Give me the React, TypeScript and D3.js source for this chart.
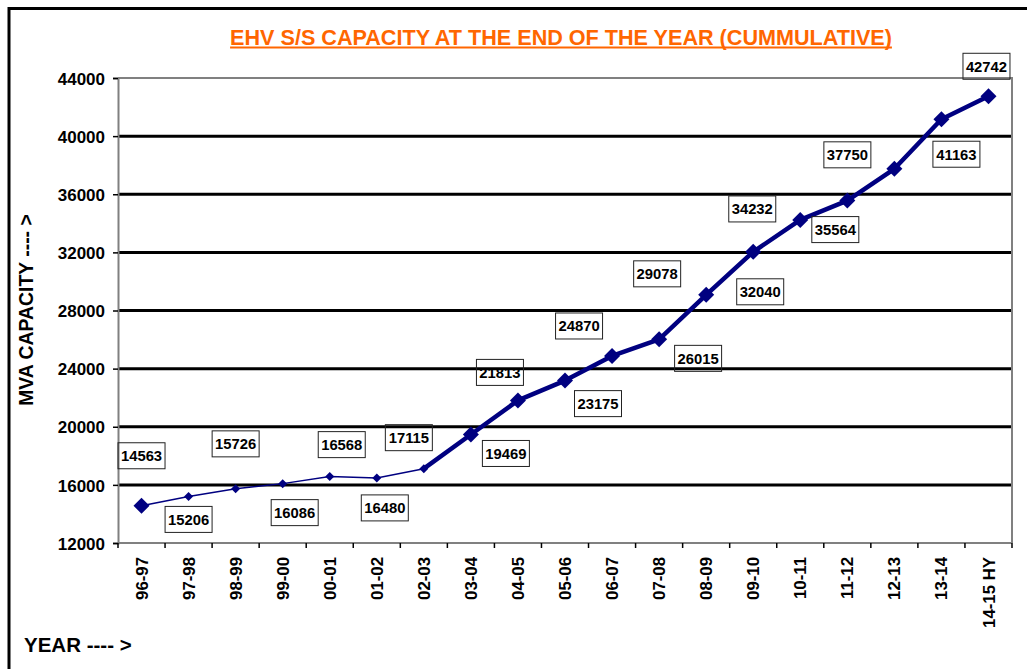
import React, { useEffect, useRef } from 'react';
import * as d3 from 'd3';

// financial years on the x axis
const years = [
  '96-97', '97-98', '98-99', '99-00', '00-01', '01-02', '02-03', '03-04', '04-05', '05-06',
  '06-07', '07-08', '08-09', '09-10', '10-11', '11-12', '12-13', '13-14', '14-15 HY',
];

// cumulative EHV substation capacity (MVA)
const capacity = [
  14563, 15206, 15726, 16086, 16568, 16480, 17115, 19469, 21813, 23175,
  24870, 26015, 29078, 32040, 34232, 35564, 37750, 41163, 42742,
];

const yTicks = [12000, 16000, 20000, 24000, 28000, 32000, 36000, 40000, 44000];

// where each value box sits relative to its point (hand placed in the original)
const labelOffsets: [number, number][] = [
  [0, -50], [0, 23], [0, -45], [12, 29], [12, -32], [8, 30], [-15, -31], [35, 19],
  [-18, -28], [33, 23], [-33, -30], [39, 19], [-49, -21], [7, 40], [-48, -11],
  [-12, 29], [-47, -14], [15, 35], [-2, -30],
];

// the line gets heavier from 02-03 onwards
const thickFrom = 6;

const FONT = "'Liberation Sans', Arial, Helvetica, sans-serif";
const NAVY = '#000080';

const App = () => {
  const ref = useRef<SVGSVGElement>(null);

  useEffect(() => {
    if (!ref.current) return;
    const width = 1027;
    const height = 669;
    const marginLeft = 118;
    const marginRight = 15;
    const marginTop = 78;
    const marginBottom = 126;

    const svg = d3.select(ref.current);
    svg.selectAll('*').remove();
    svg.attr('width', width).attr('height', height)
      .style('font-family', FONT);

    const x = d3.scaleBand<string>()
      .domain(years)
      .range([marginLeft, width - marginRight])
      .padding(0);

    const y = d3.scaleLinear()
      .domain([12000, 44000])
      .range([height - marginBottom, marginTop]);

    const cx = (i: number) => (x(years[i]) ?? 0) + x.bandwidth() / 2;
    const cy = (i: number) => y(capacity[i]);

    // outer frame
    svg.append('rect')
      .attr('x', 9).attr('y', 8.5)
      .attr('width', width + 20).attr('height', height + 20)
      .attr('fill', 'white')
      .attr('stroke', 'black').attr('stroke-width', 3);

    // title
    const title = svg.append('text')
      .attr('x', 561).attr('y', 45)
      .attr('text-anchor', 'middle')
      .attr('fill', '#FF6600')
      .attr('font-weight', 'bold')
      .attr('font-size', 21.6)
      .text('EHV S/S CAPACITY AT THE END OF THE YEAR (CUMMULATIVE)');
    const tw = (title.node() as SVGTextElement).getComputedTextLength();
    svg.append('rect')
      .attr('x', 561 - tw / 2).attr('y', 46.5)
      .attr('width', tw).attr('height', 2)
      .attr('fill', '#FF6600');

    // gridlines
    svg.append('g')
      .selectAll('line')
      .data(yTicks.filter(t => t > 12000 && t < 44000))
      .join('line')
      .attr('x1', marginLeft).attr('x2', width - marginRight)
      .attr('y1', d => y(d)).attr('y2', d => y(d))
      .attr('stroke', 'black').attr('stroke-width', 3);

    // plot frame (top/right)
    svg.append('path')
      .attr('d', `M${marginLeft},${y(44000)}H${width - marginRight}V${y(12000)}`)
      .attr('fill', 'none')
      .attr('stroke', '#808080').attr('stroke-width', 2);

    // y axis
    svg.append('g')
      .attr('transform', `translate(${marginLeft},0)`)
      .call(d3.axisLeft(y).tickValues(yTicks).tickSize(5).tickPadding(8).tickFormat(d3.format('d')))
      .call(g => g.select('.domain').attr('stroke', '#808080').attr('stroke-width', 2))
      .call(g => g.selectAll('.tick line').attr('stroke', 'black').attr('stroke-width', 1.5))
      .call(g => g.selectAll('.tick text')
        .attr('font-family', FONT).attr('font-size', 17).attr('font-weight', 'bold')
        .attr('fill', 'black').attr('dy', '0.36em'));

    // x axis: ticks on band edges, labels rotated
    const xAxis = svg.append('g')
      .attr('transform', `translate(0,${height - marginBottom})`);
    xAxis.append('line')
      .attr('x1', marginLeft).attr('x2', width - marginRight)
      .attr('stroke', '#808080').attr('stroke-width', 2);
    xAxis.selectAll('line.tick')
      .data(d3.range(years.length + 1))
      .join('line')
      .attr('class', 'tick')
      .attr('x1', i => marginLeft + i * x.bandwidth())
      .attr('x2', i => marginLeft + i * x.bandwidth())
      .attr('y1', 0).attr('y2', 5)
      .attr('stroke', 'black').attr('stroke-width', 1.5);
    xAxis.selectAll('text')
      .data(years)
      .join('text')
      .attr('transform', d => `translate(${(x(d) ?? 0) + x.bandwidth() / 2},14) rotate(-90)`)
      .attr('text-anchor', 'end')
      .attr('dy', '0.36em')
      .attr('font-size', 16.8)
      .attr('font-weight', 'bold')
      .text(d => d);

    // axis titles
    svg.append('text')
      .attr('transform', `translate(33,310) rotate(-90)`)
      .attr('text-anchor', 'middle')
      .attr('font-size', 19.4).attr('font-weight', 'bold')
      .text('MVA CAPACITY ---- >');
    svg.append('text')
      .attr('x', 24).attr('y', 652)
      .attr('font-size', 20.5).attr('font-weight', 'bold')
      .text('YEAR ---- >');

    // line: thin section then thick section
    const idx = d3.range(capacity.length);
    const line = d3.line<number>().x(cx).y(cy);
    svg.append('path')
      .attr('d', line(idx.filter(i => i <= thickFrom)))
      .attr('fill', 'none').attr('stroke', NAVY).attr('stroke-width', 1.5);
    svg.append('path')
      .attr('d', line(idx.filter(i => i >= thickFrom)))
      .attr('fill', 'none').attr('stroke', NAVY).attr('stroke-width', 4.5)
      .attr('stroke-linejoin', 'round');

    // diamond markers
    const big = (i: number) => i === 0 || i > thickFrom;
    svg.append('g')
      .selectAll('path')
      .data(idx)
      .join('path')
      .attr('d', i => {
        const r = big(i) ? 8 : 4.5;
        return `M${cx(i)},${cy(i) - r}L${cx(i) + r},${cy(i)}L${cx(i)},${cy(i) + r}L${cx(i) - r},${cy(i)}Z`;
      })
      .attr('fill', NAVY);

    // value boxes
    const labels = svg.append('g')
      .selectAll('g')
      .data(idx)
      .join('g')
      .attr('transform', i => `translate(${cx(i) + labelOffsets[i][0]},${cy(i) + labelOffsets[i][1]})`);
    labels.append('rect')
      .attr('x', -23.5).attr('y', -13)
      .attr('width', 47).attr('height', 26)
      .attr('fill', 'none')
      .attr('stroke', '#222').attr('stroke-width', 1);
    labels.append('text')
      .attr('text-anchor', 'middle')
      .attr('dy', '0.36em')
      .attr('font-size', 14.8).attr('font-weight', 'bold')
      .text(i => capacity[i]);
  }, []);

  return <svg ref={ref} style={{ position: 'absolute', left: 0, top: 0, display: 'block' }} />;
};

export default App;
